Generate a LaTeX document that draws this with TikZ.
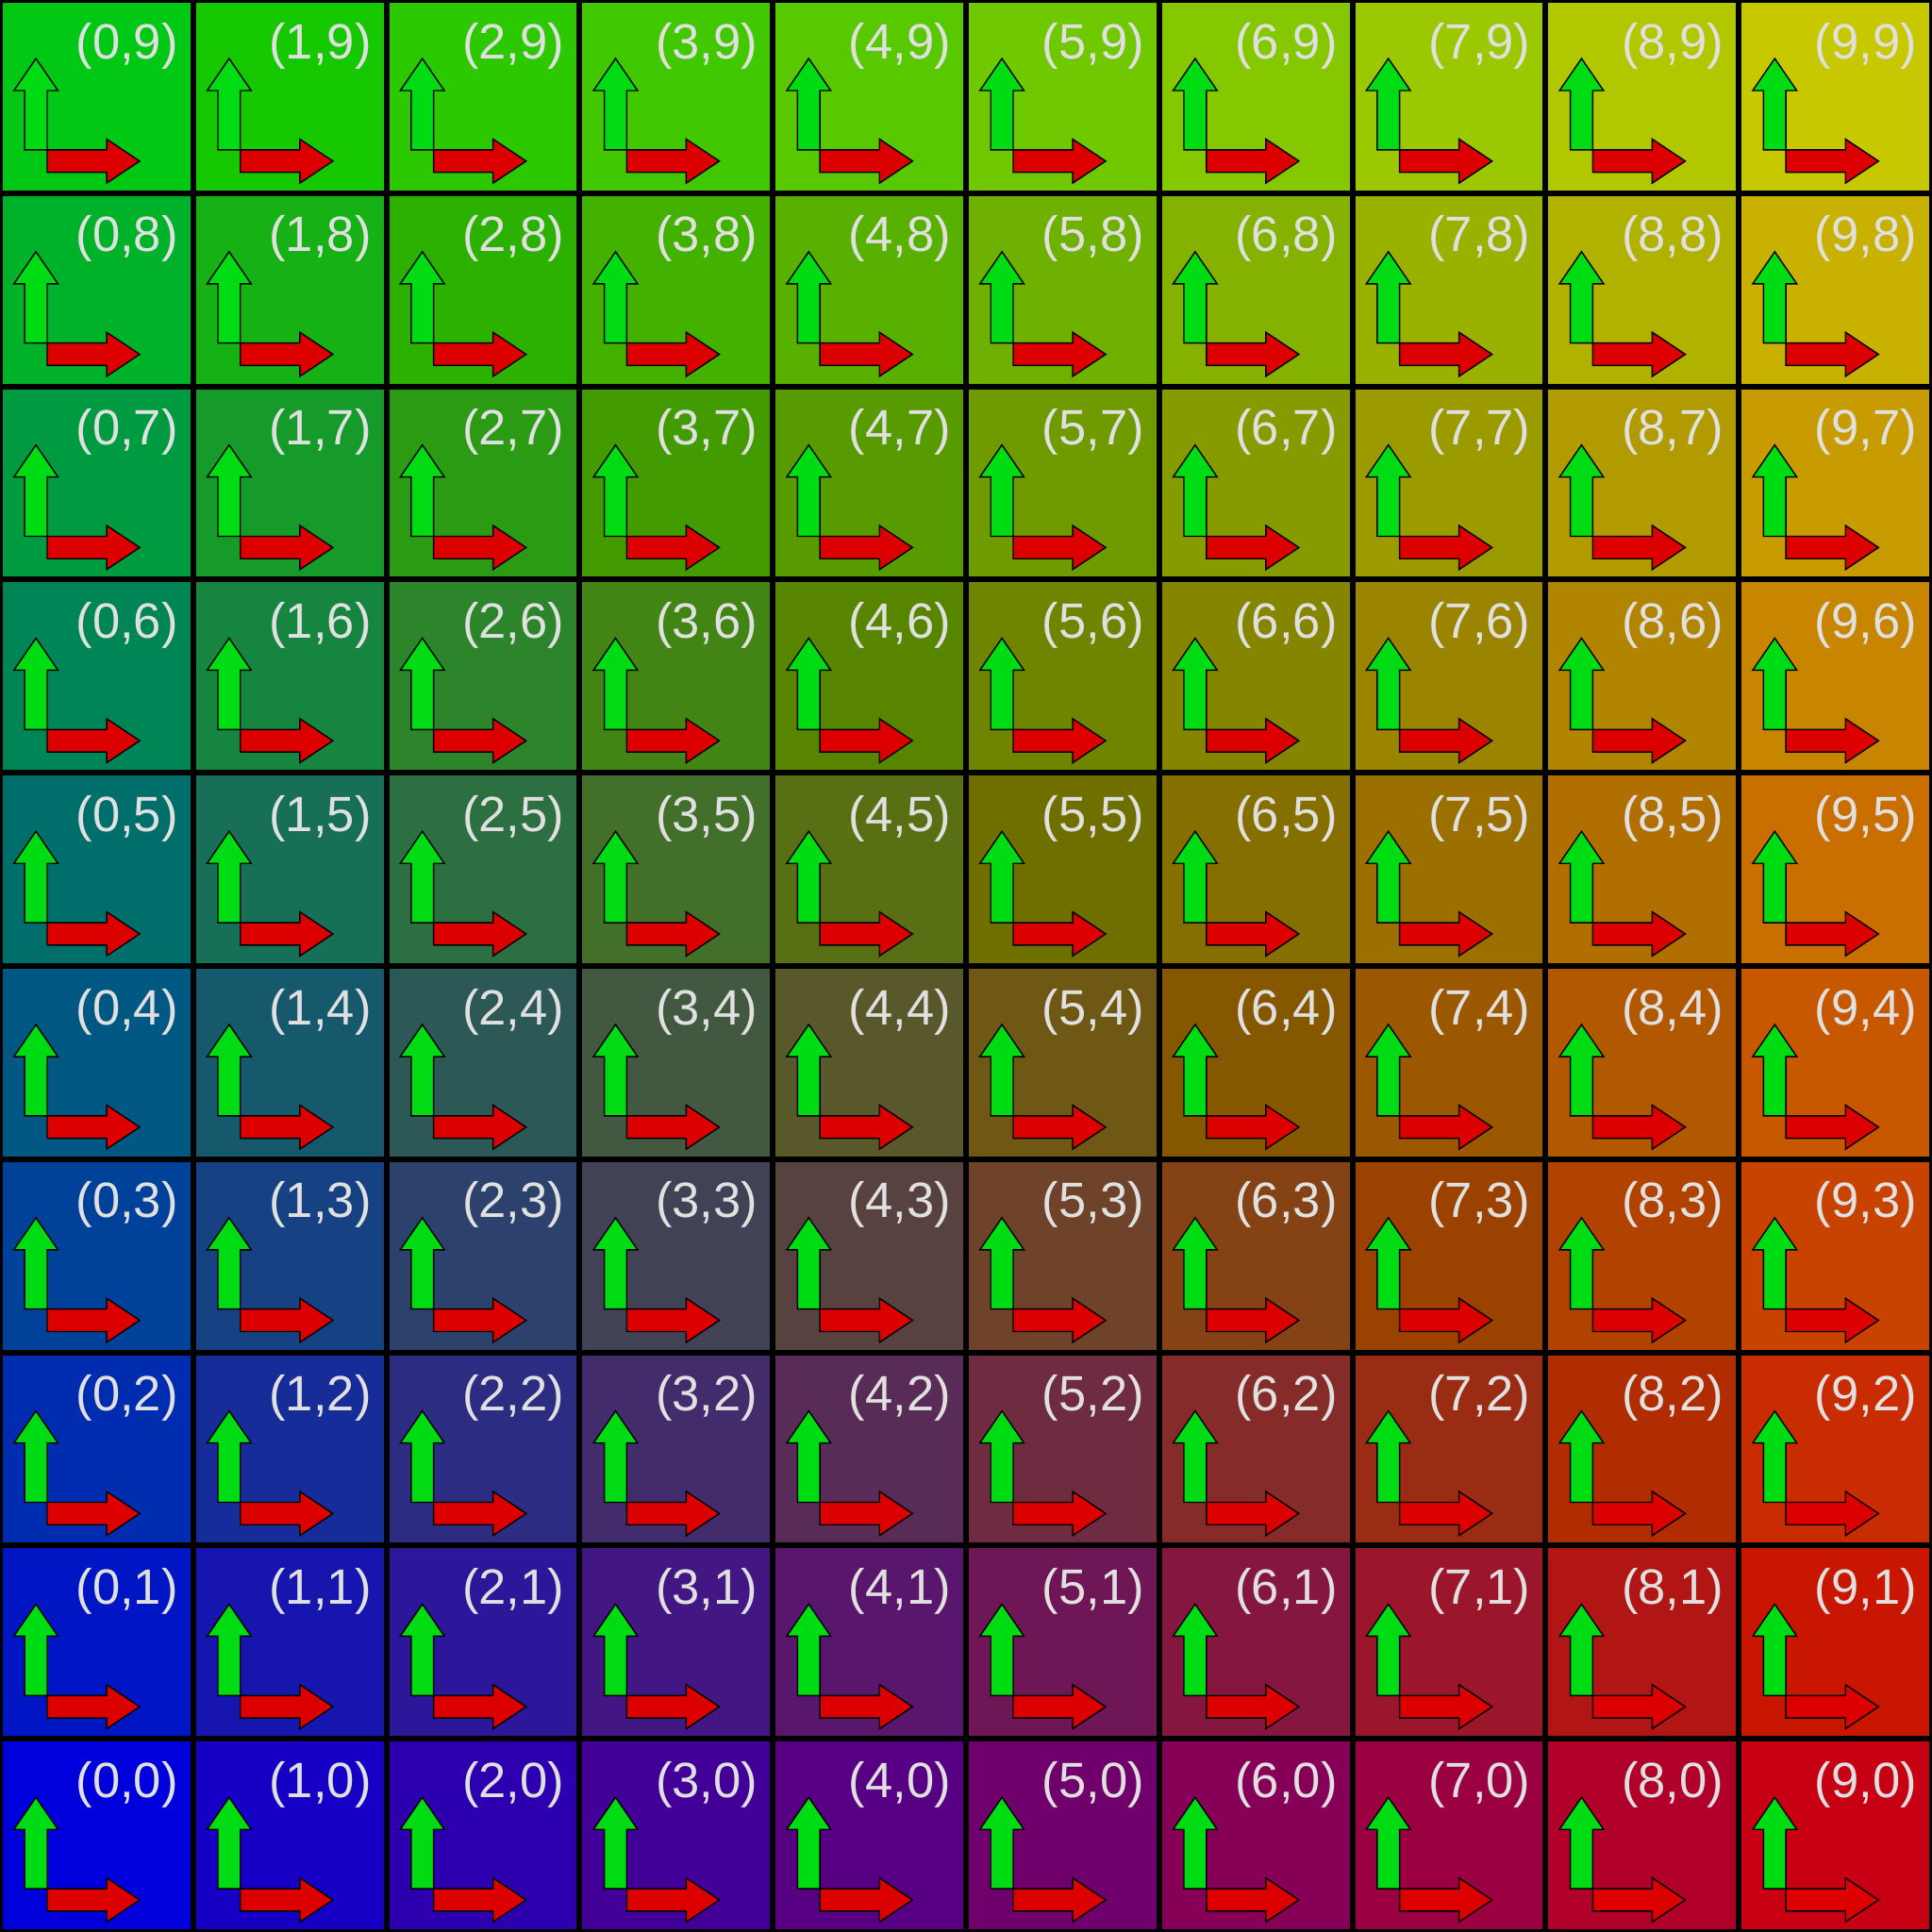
\documentclass[tikz,border=0pt]{standalone}
\usepackage{fontspec}
\setmainfont{Liberation Sans}
\usepackage{xcolor}
\usetikzlibrary{positioning,calc}
\definecolor{labelgray}{RGB}{224,224,224}
\definecolor{upgreen}{RGB}{0,220,20}
\definecolor{rtred}{RGB}{220,0,0}

\begin{document}
\begin{tikzpicture}[x=2cm,y=2cm,
  cell/.style={minimum size=1.9414cm,inner sep=0pt,outer sep=0pt},
  lbl/.style={anchor=base east,inner sep=0pt,text=labelgray,font=\fontsize{14.6}{17}\selectfont},
  uparrow/.style={fill=upgreen,draw=black,line width=0.4pt},
  rtarrow/.style={fill=rtred,draw=black,line width=0.4pt}]
  \fill[black] (0,0) rectangle (10,10);
  \foreach \i in {0,...,9}{
    \foreach \j in {0,...,9}{
      \pgfmathtruncatemacro{\rr}{200*\i/9}
      \pgfmathtruncatemacro{\gg}{200*\j/9}
      \pgfmathtruncatemacro{\bb}{max(0,220-200*(\i+\j)/9)}
      \definecolor{cellfill}{RGB}{\rr,\gg,\bb}
      \node[cell,fill=cellfill] (c-\i-\j) at (\i+0.5,\j+0.5) {};
      \node[lbl] (l-\i-\j) at ($(c-\i-\j.center)+(0.425,0.197)$) {(\i,\j)};
      \begin{scope}[shift={(\i,\j)}]
        \draw[uparrow] (0.128,0.224) -- (0.128,0.531) -- (0.072,0.531) -- (0.186,0.697)
          -- (0.300,0.531) -- (0.244,0.531) -- (0.244,0.224) -- cycle;
        \draw[rtarrow] (0.244,0.224) -- (0.552,0.224) -- (0.552,0.280) -- (0.723,0.166)
          -- (0.552,0.052) -- (0.552,0.108) -- (0.244,0.108) -- cycle;
      \end{scope}
    }
  }
\end{tikzpicture}
\end{document}
